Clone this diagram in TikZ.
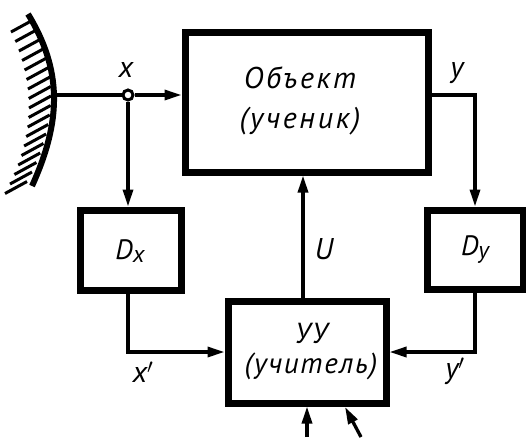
\documentclass[tikz,border=0pt]{standalone}
\usepackage{fontspec}
\setmainfont{PT Sans}
\usetikzlibrary{arrows.meta}
\tikzset{
  blk/.style={draw, line width=7pt, inner sep=0pt},
  conn/.style={line width=3.3pt},
  arr/.style={conn, -{Triangle[length=17pt,width=10pt]}},
  lbl/.style={font=\fontsize{30}{34}\selectfont\itshape, inner sep=0pt},
  btxt/.style={align=center, inner sep=0pt},
}
\begin{document}
\begin{tikzpicture}[x=1pt,y=-1pt]
\useasboundingbox (0,0) rectangle (526,437);
% wall
\draw[line width=6pt] (28,14) .. controls (62,70) and (62,120) .. (32,186);
\foreach \yy in {20,29.5,...,182}{
  \pgfmathsetmacro{\xw}{53-0.0032*(\yy-95)*(\yy-95)}
  \draw[line width=3pt] (\xw-2,\yy) -- (\xw-24,\yy+12);
}
% blocks
\node[blk, minimum width=243pt, minimum height=140pt] (obj) at (306.5,102) {};
\node[btxt, font=\fontsize{30}{40}\selectfont\itshape\addfontfeature{LetterSpace=9}] (objt) at (300,101) {Объект\\(ученик)};
\node[blk, minimum width=101pt, minimum height=80pt] (dx) at (130.5,250) {};
\node[font=\fontsize{28}{32}\selectfont\itshape] (dxt) at (130,251) {D\raisebox{-3pt}{\fontsize{24}{28}\selectfont x}};
\node[blk, minimum width=96pt, minimum height=79pt] (dy) at (475,249.5) {};
\node[font=\fontsize{28}{32}\selectfont\itshape] (dyt) at (475,250) {D\raisebox{-3pt}{\fontsize{24}{28}\selectfont y}};
\node[blk, minimum width=158pt, minimum height=102pt] (uu) at (307,352) {};
\node[btxt, font=\fontsize{29}{30}\selectfont\itshape\addfontfeature{LetterSpace=6}] (uut) at (311,352) {УУ\\(учитель)};
% coordinates
\coordinate (W) at (52.5,95);
\coordinate (Ux) at (303,0);
\coordinate (b1) at (307,437);
\coordinate (b2) at (361,437);
\coordinate (b2e) at (345,407);
% junction
\node[draw, circle, line width=3pt, fill=white, minimum size=10pt, inner sep=0pt] (J) at (128,95) {};
% connectors
\draw[conn] (W) -- (J);
\draw[arr] (J) -- (J -| obj.west);
\draw[arr] (J) -- (J |- dx.north);
\draw[arr] (dx.south -| J) |- (uu.west);
\draw[arr] (uu.north -| Ux) -- (obj.south -| Ux);
\draw[arr] (obj.east |- J) -| (dy.north);
\draw[arr] (dy.south) |- (uu.east);
\draw[arr] (b1) -- (b1 |- uu.south);
\draw[arr] (b2) -- (b2e);
% labels
\node[lbl] (lx) at (126,70) {x};
\node[lbl] (ly) at (457,73) {y};
\node[lbl] (lxp) at (143,372) {x$'$};
\node[lbl] (lyp) at (455,371) {y$'$};
\node[lbl] (lu) at (324,249) {U};
\end{tikzpicture}
\end{document}
